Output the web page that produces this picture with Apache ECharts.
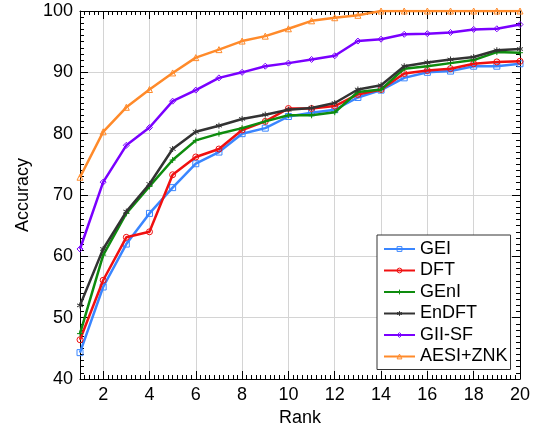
<!DOCTYPE html>
<html>
<head>
<meta charset="utf-8">
<script src="https://cdn.jsdelivr.net/npm/echarts@6/dist/echarts.min.js"></script>
<style>html,body{margin:0;padding:0;background:#fff;}#c{width:541px;height:436px;}</style>
</head>
<body>
<div id="c"></div>
<script>
const ranks = [1,2,3,4,5,6,7,8,9,10,11,12,13,14,15,16,17,18,19,20];
const xTicks = [2,4,6,8,10,12,14,16,18,20];
const seriesNames = ['GEI','DFT','GEnI','EnDFT','GII-SF','AESI+ZNK'];
const gei   = [44.3,55.0,62.0,67.0,71.2,75.1,77.0,80.0,80.9,82.8,83.4,83.9,85.9,87.1,89.1,90.0,90.2,91.0,91.0,91.4];
const dft   = [46.4,56.1,63.1,64.0,73.3,76.2,77.5,80.6,82.0,84.1,84.1,84.5,86.4,87.2,89.8,90.3,90.6,91.4,91.7,91.8];
const geni  = [47.4,60.2,67.0,71.4,75.7,78.9,80.0,80.9,82.0,83.0,83.0,83.5,86.8,87.2,90.6,91.0,91.5,92.0,93.3,93.2];
const endft = [52.0,61.2,67.3,71.8,77.5,80.3,81.3,82.4,83.1,83.9,84.2,85.0,87.2,87.9,91.0,91.6,92.1,92.5,93.6,93.8];
const giisf = [61.2,72.1,78.1,81.0,85.3,87.1,89.1,90.0,91.0,91.5,92.1,92.7,95.1,95.4,96.2,96.3,96.5,97.0,97.1,97.8];
const aesi  = [72.9,80.3,84.3,87.2,89.9,92.4,93.7,95.1,95.9,97.1,98.4,98.9,99.3,100,100,100,100,100,100,100];

const allValues = [gei, dft, geni, endft, giisf, aesi];
const colors = ['#3a86ff','#f01010','#0e8c0e','#333333','#7a00ff','#ff8a2a'];
const symbols = [
  'rect','circle',
  'path://M0,-1L0,1M-1,0L1,0',
  'path://M0,-1L0,1M-0.87,-0.5L0.87,0.5M-0.87,0.5L0.87,-0.5',
  'diamond','triangle'
];
const font = 'Liberation Sans, Arial, sans-serif';

const chart = echarts.init(document.getElementById('c'), null, {renderer:'canvas'});

const series = seriesNames.map((n,i)=>({
  name:n, type:'line', xAxisIndex:0, yAxisIndex:0,
  data: ranks.map((r,k)=>[r, allValues[i][k]]),
  symbol: symbols[i], symbolSize: 6, showSymbol:true,
  lineStyle:{color:colors[i], width:2.5},
  itemStyle:{color:'rgba(255,255,255,0)', borderColor:colors[i], borderWidth:1},
  emphasis:{disabled:true},
  z: 2+i
}));

const tickStyle = {color:'#000', width:1};
chart.setOption({
  animation:false,
  backgroundColor:'#fff',
  grid:{left:80, right:21, top:11, bottom:57, containLabel:false},
  legend:{
    orient:'vertical', left:377, top:235,
    data: seriesNames,
    itemWidth:31, itemHeight:6, itemGap:3.5,
    padding:[5,3,4,6],
    backgroundColor:'#fff', borderColor:'#333', borderWidth:1,
    itemStyle:{color:'rgba(255,255,255,0)', borderColor:'inherit', borderWidth:1},
    textStyle:{fontFamily:font, fontSize:18, color:'#000', lineHeight:18}
  },
  xAxis:[
    {type:'value', position:'bottom', min:1, max:20,
     name:'Rank', nameLocation:'middle', nameGap:29,
     nameTextStyle:{fontFamily:font, fontSize:18, color:'#000'},
     axisLine:{show:true, onZero:false, lineStyle:{color:'#000', width:1}},
     axisTick:{show:true, inside:true, length:8, customValues:xTicks, lineStyle:tickStyle},
     axisLabel:{customValues:xTicks, fontFamily:font, fontSize:18, color:'#000', margin:7},
     splitLine:{show:true, lineStyle:{color:'#d4d4d4', width:1}}
    },
    {type:'value', position:'bottom', min:1, max:20, interval:0.2,
     axisLine:{show:false, onZero:false}, axisLabel:{show:false}, splitLine:{show:false},
     axisTick:{show:true, inside:true, length:4, lineStyle:tickStyle}},
    {type:'value', position:'top', min:1, max:20,
     axisLine:{show:true, onZero:false, lineStyle:{color:'#000', width:1}},
     axisTick:{show:true, inside:true, length:8, customValues:xTicks, lineStyle:tickStyle},
     axisLabel:{show:false}, splitLine:{show:false}},
    {type:'value', position:'top', min:1, max:20, interval:0.2,
     axisLine:{show:false, onZero:false}, axisLabel:{show:false}, splitLine:{show:false},
     axisTick:{show:true, inside:true, length:4, lineStyle:tickStyle}}
  ],
  yAxis:[
    {type:'value', position:'left', min:40, max:100, interval:10,
     name:'Accuracy', nameLocation:'middle', nameGap:43,
     nameTextStyle:{fontFamily:font, fontSize:18, color:'#000'},
     axisLine:{show:true, onZero:false, lineStyle:{color:'#000', width:1}},
     axisTick:{show:true, inside:true, length:8, lineStyle:tickStyle},
     minorTick:{show:true, splitNumber:10, length:4, lineStyle:tickStyle},
     axisLabel:{fontFamily:font, fontSize:18, color:'#000', margin:7},
     splitLine:{show:true, lineStyle:{color:'#d4d4d4', width:1}}
    },
    {type:'value', position:'right', min:40, max:100, interval:10,
     axisLine:{show:true, onZero:false, lineStyle:{color:'#000', width:1}},
     axisTick:{show:true, inside:true, length:8, lineStyle:tickStyle},
     minorTick:{show:true, splitNumber:10, length:4, lineStyle:tickStyle},
     axisLabel:{show:false}, splitLine:{show:false}}
  ],
  series: series
});
</script>
</body>
</html>
